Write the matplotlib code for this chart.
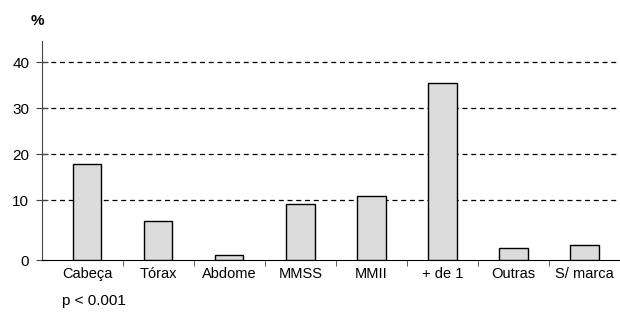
import numpy as np
import matplotlib
matplotlib.use('Agg')
import matplotlib.pyplot as plt

# data (% per body region)
categories = ['Cabeça', 'Tórax', 'Abdome', 'MMSS', 'MMII', '+ de 1', 'Outras', 'S/ marca']
values = [18.0, 6.6, 0.8, 9.4, 10.9, 35.4, 2.1, 2.5]
yticks = [0, 10, 20, 30, 40]

plt.rcParams['font.family'] = ['Liberation Sans', 'DejaVu Sans']

# the original axis gives the 0-10 band more room than the rest
k = 59.4 / 46.0
def fwd(v):
    v = np.asarray(v, dtype=float)
    return np.where(v <= 10, v * k, 10 * k + (v - 10))
def inv(u):
    u = np.asarray(u, dtype=float)
    return np.where(u <= 10 * k, u / k, u - 10 * k + 10)

fig = plt.figure(figsize=(6.2, 3.12), dpi=100)
ax = fig.add_axes([41.7 / 620, 52 / 312, 1 - 41.7 / 620, 219 / 312])
ax.set_yscale('function', functions=(fwd, inv))

x = np.arange(len(categories))
ax.bar(x, values, width=0.4, color='#dcdcdc', edgecolor='black', linewidth=1, zorder=3)

ax.set_ylim(0, 44.6)
ax.set_xlim(-0.64, 7.39)
ax.set_yticks(yticks)
ax.set_yticklabels([str(t) for t in yticks], fontsize=11)
for t in yticks[1:]:
    ax.axhline(t, color='black', lw=0.9, ls=(0, (4, 3)), zorder=1)

ax.set_xticks(x)
ax.set_xticklabels(categories, fontsize=10.5)
ax.set_xticks(np.arange(len(categories)) + 0.5, minor=True)
ax.tick_params(axis='x', which='major', length=0, pad=5)
ax.tick_params(axis='x', which='minor', length=4, direction='out', color='#444444')
ax.tick_params(axis='y', length=8, direction='inout', pad=5, color='#444444')

for s in ['top', 'right']:
    ax.spines[s].set_visible(False)
ax.spines['left'].set_color('#444444')
ax.spines['bottom'].set_color('black')

fig.text(37 / 620, 1 - 21 / 312, '%', fontsize=11, fontweight='bold', ha='center', va='center')
fig.text(62 / 620, 1 - 301 / 312, 'p < 0.001', fontsize=11, ha='left', va='center')

fig.savefig('out.png', dpi=100)
